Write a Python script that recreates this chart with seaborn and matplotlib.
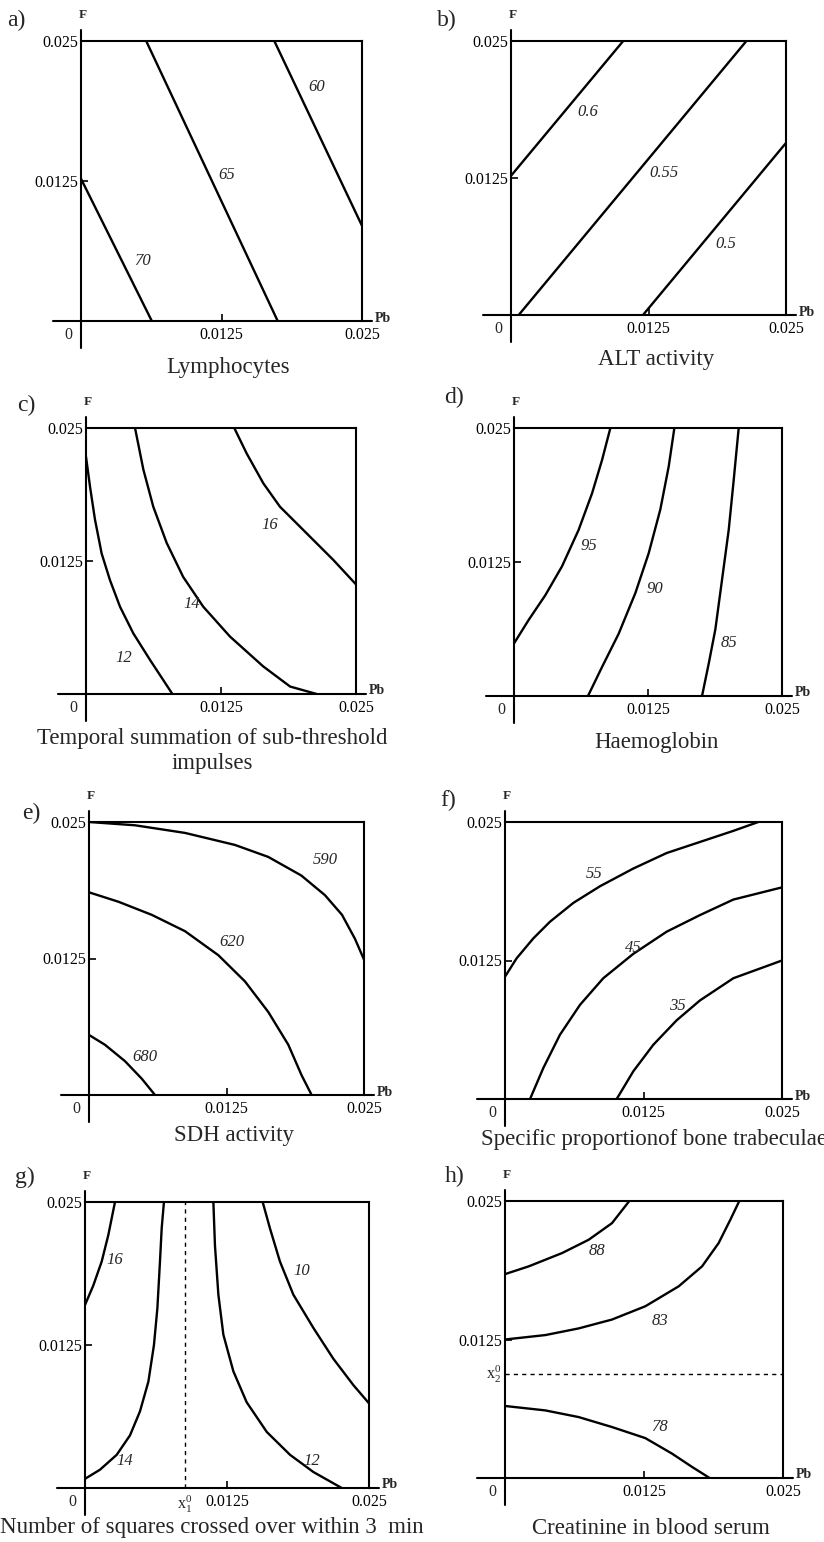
import matplotlib
matplotlib.use("Agg")
import matplotlib.pyplot as plt
import pandas as pd
import seaborn as sns

sns.set_theme(style="white")
plt.rcParams["font.family"] = ["Liberation Serif", "DejaVu Serif"]
plt.rcParams["mathtext.fontset"] = "stix"

W, H = 824, 1542

# a) Lymphocytes
lymph_levels = ["70", "65", "60"]
lymph_pb = [[0.0, 0.0063], [0.0058, 0.0175], [0.0172, 0.025]]
lymph_f = [[0.0127, 0.0], [0.025, 0.0], [0.025, 0.0085]]

# b) ALT activity
alt_levels = ["0.6", "0.55", "0.5"]
alt_pb = [[0.0, 0.0102], [0.0007, 0.0214], [0.0120, 0.025]]
alt_f = [[0.0127, 0.025], [0.0, 0.025], [0.0, 0.0157]]

# c) temporal summation
temp_levels = ["12", "14", "16"]
temp_pb = [[0.0, 0.00037, 0.00083, 0.00145, 0.00222, 0.00315, 0.00438, 0.00593, 0.00716, 0.0080],
           [0.00454, 0.00531, 0.00623, 0.00747, 0.0090, 0.01086, 0.01333, 0.0164, 0.0189, 0.02136],
           [0.01373, 0.01488, 0.01642, 0.01796, 0.02043, 0.0229, 0.025]]
temp_f = [[0.0223, 0.0195, 0.0164, 0.0132, 0.0107, 0.0082, 0.0057, 0.0032, 0.0013, 0.0],
          [0.025, 0.0211, 0.0176, 0.0142, 0.0110, 0.0082, 0.0054, 0.0026, 0.0007, 0.0],
          [0.025, 0.0226, 0.0198, 0.0176, 0.0151, 0.0126, 0.0103]]

# d) Haemoglobin
hb_levels = ["95", "90", "85"]
hb_pb = [[0.0, 0.00137, 0.00292, 0.00448, 0.00603, 0.00728, 0.00821, 0.00899],
         [0.0069, 0.00821, 0.00976, 0.01132, 0.01256, 0.01365, 0.01443, 0.01496],
         [0.01754, 0.01816, 0.01878, 0.0194, 0.02003, 0.02049, 0.02096]]
hb_f = [[0.0049, 0.0071, 0.0094, 0.0121, 0.0155, 0.0189, 0.0220, 0.025],
        [0.0, 0.0027, 0.0058, 0.0096, 0.0133, 0.0174, 0.0214, 0.025],
        [0.0, 0.0030, 0.0062, 0.0108, 0.0155, 0.0201, 0.025]]

# e) SDH activity
sdh_levels = ["590", "620", "680"]
sdh_pb = [[0.0, 0.00418, 0.00873, 0.01327, 0.0163, 0.0193, 0.02145, 0.0230, 0.02418, 0.025],
          [0.0, 0.00267, 0.0057, 0.00873, 0.01176, 0.01418, 0.0163, 0.01812, 0.01933, 0.02024],
          [0.0, 0.00145, 0.00327, 0.00479, 0.0060]]
sdh_f = [[0.025, 0.0247, 0.0240, 0.0229, 0.0218, 0.0201, 0.0183, 0.0165, 0.0143, 0.0124],
         [0.01856, 0.0177, 0.0165, 0.0150, 0.0128, 0.0104, 0.0076, 0.0046, 0.0018, 0.0],
         [0.0055, 0.0046, 0.0031, 0.0015, 0.0]]

# f) bone trabeculae
bone_levels = ["55", "45", "35"]
bone_pb = [[0.0, 0.00105, 0.00256, 0.00406, 0.00617, 0.00857, 0.01158, 0.01459, 0.0176, 0.02061, 0.02286],
           [0.00226, 0.00346, 0.00496, 0.00677, 0.00887, 0.01158, 0.01459, 0.0176, 0.02061, 0.025],
           [0.01008, 0.01158, 0.01339, 0.01549, 0.0176, 0.02061, 0.025]]
bone_f = [[0.01104, 0.0127, 0.0145, 0.0160, 0.0177, 0.0192, 0.0208, 0.0222, 0.0232, 0.0242, 0.025],
          [0.0, 0.0028, 0.0058, 0.0085, 0.0109, 0.0131, 0.0151, 0.0166, 0.0180, 0.0191],
          [0.0, 0.0025, 0.0049, 0.0071, 0.0089, 0.0109, 0.0125]]

# g) squares crossed
sq_levels = ["16", "14", "12", "10"]
sq_pb = [[0.0, 0.00073, 0.00147, 0.00205, 0.00264],
         [0.0, 0.00132, 0.00279, 0.00396, 0.00484, 0.00558, 0.00607, 0.00637, 0.0066, 0.00675, 0.00695],
         [0.0113, 0.01144, 0.01174, 0.01218, 0.01306, 0.01423, 0.0160, 0.01805, 0.0201, 0.0226],
         [0.01564, 0.01628, 0.01716, 0.01834, 0.0201, 0.02186, 0.02362, 0.025]]
sq_f = [[0.0160, 0.0177, 0.0198, 0.0221, 0.025],
        [0.0008, 0.0016, 0.0029, 0.0046, 0.0067, 0.0093, 0.0125, 0.0157, 0.0198, 0.0227, 0.025],
        [0.025, 0.0212, 0.0169, 0.0134, 0.0102, 0.0075, 0.0049, 0.0029, 0.0014, 0.0],
        [0.025, 0.0227, 0.0198, 0.0169, 0.0140, 0.0113, 0.0090, 0.0074]]
x1_0 = 0.0088

# h) creatinine
cr_levels = ["88", "83", "78"]
cr_pb = [[0.0, 0.00213, 0.00513, 0.00752, 0.00962, 0.01118],
         [0.0, 0.00363, 0.00662, 0.00962, 0.01262, 0.01562, 0.01772, 0.01921, 0.02026, 0.02107],
         [0.0, 0.00363, 0.00662, 0.00962, 0.01262, 0.01502, 0.01682, 0.0184]]
cr_f = [[0.0184, 0.0191, 0.0203, 0.0215, 0.0230, 0.025],
        [0.0125, 0.0129, 0.0135, 0.0143, 0.0155, 0.0173, 0.0191, 0.0212, 0.0233, 0.025],
        [0.0065, 0.0061, 0.0055, 0.0046, 0.0036, 0.0022, 0.0010, 0.0]]
x2_0 = 0.0094

tick_vals = [0.0125, 0.025]
tick_text = ["0.0125", "0.025"]

# layout: box (L, T, R, B) px, letter pos, label pos (data), title lines, title pos
panels = [
    dict(levels=lymph_levels, pb=lymph_pb, f=lymph_f, box=(81, 41, 362, 321),
         letter="a)", lpos=(7, 20),
         lab=[(0.0055, 0.0054), (0.0130, 0.0130), (0.0210, 0.0209)],
         title=["Lymphocytes"], tpos=[(228, 368)]),
    dict(levels=alt_levels, pb=alt_pb, f=alt_f, box=(511, 41, 786, 315),
         letter="b)", lpos=(437, 20),
         lab=[(0.0070, 0.0185), (0.0139, 0.0130), (0.0195, 0.0065)],
         title=["ALT activity"], tpos=[(656, 360)]),
    dict(levels=temp_levels, pb=temp_pb, f=temp_f, box=(86, 428, 356, 694),
         letter="c)", lpos=(17, 405),
         lab=[(0.0035, 0.0034), (0.0098, 0.0085), (0.0170, 0.0159)],
         title=["Temporal summation of sub-threshold", "impulses"],
         tpos=[(212, 738), (212, 763)]),
    dict(levels=hb_levels, pb=hb_pb, f=hb_f, box=(514, 428, 782, 696),
         letter="d)", lpos=(444, 397),
         lab=[(0.0070, 0.0140), (0.0131, 0.0100), (0.0201, 0.0049)],
         title=["Haemoglobin"], tpos=[(656, 742)]),
    dict(levels=sdh_levels, pb=sdh_pb, f=sdh_f, box=(89, 822, 364, 1095),
         letter="e)", lpos=(22, 813),
         lab=[(0.0215, 0.0215), (0.0130, 0.0140), (0.0051, 0.0035)],
         title=["SDH activity"], tpos=[(234, 1136)]),
    dict(levels=bone_levels, pb=bone_pb, f=bone_f, box=(505, 822, 782, 1099),
         letter="f)", lpos=(440, 800),
         lab=[(0.0080, 0.0203), (0.0116, 0.0136), (0.0156, 0.0084)],
         title=["Specific proportionof bone trabeculae"], tpos=[(654, 1140)]),
    dict(levels=sq_levels, pb=sq_pb, f=sq_f, box=(85, 1202, 369, 1488),
         letter="g)", lpos=(15, 1177),
         lab=[(0.0026, 0.0199), (0.0035, 0.0024), (0.0200, 0.0024), (0.0191, 0.0190)],
         title=["Number of squares crossed over within 3  min"], tpos=[(212, 1528)]),
    dict(levels=cr_levels, pb=cr_pb, f=cr_f, box=(505, 1201, 783, 1478),
         letter="h)", lpos=(445, 1176),
         lab=[(0.0083, 0.0205), (0.0139, 0.0142), (0.0139, 0.0046)],
         title=["Creatinine in blood serum"], tpos=[(651, 1528)]),
]

fig = plt.figure(figsize=(W / 100, H / 100), dpi=100)
fig.patch.set_facecolor("white")

axes = []
for p in panels:
    L, T, R, B = p["box"]
    w, h = R - L, B - T
    ax = fig.add_axes([L / W, 1 - B / H, w / W, h / H])
    rows = []
    for lev, xs, ys in zip(p["levels"], p["pb"], p["f"]):
        for i, (xv, yv) in enumerate(zip(xs, ys)):
            rows.append({"level": lev, "i": i, "Pb": xv, "F": yv})
    df = pd.DataFrame(rows)
    sns.lineplot(data=df, x="Pb", y="F", units="level", estimator=None,
                 sort=False, color="black", lw=1.7, legend=False, ax=ax)
    ax.set_xlim(0, 0.025)
    ax.set_ylim(0, 0.025)
    ax.set_xlabel("")
    ax.set_ylabel("")
    ax.set_facecolor("white")
    for s in ["left", "bottom"]:
        ax.spines[s].set_visible(False)
    for s in ["top", "right"]:
        ax.spines[s].set_color("black")
        ax.spines[s].set_linewidth(1.5)
    # extended axis lines
    ax.plot([0, 0], [-27 / h, 1 + 11 / h], transform=ax.transAxes,
            clip_on=False, color="black", lw=1.5)
    ax.plot([-28 / w, 1 + 10 / w], [0, 0], transform=ax.transAxes,
            clip_on=False, color="black", lw=1.5)
    ax.set_xticks(tick_vals)
    ax.set_xticklabels(tick_text)
    ax.set_yticks(tick_vals)
    ax.set_yticklabels(tick_text)
    ax.tick_params(direction="in", length=5, width=1.2, colors="black",
                   labelsize=11.5, bottom=True, left=True, pad=2)
    ax.tick_params(axis="x", pad=4)

    for lev, (lx, ly) in zip(p["levels"], p["lab"]):
        ax.text(lx, ly, lev, style="italic", fontsize=12, ha="center", va="center")

    fig.text((L - 13) / W, 1 - (B + 14) / H, "0", fontsize=11.5, ha="center", va="center")
    fig.text((L + 2) / W, 1 - (T - 26) / H, "F", fontsize=9.5, weight="bold",
             ha="center", va="center")
    fig.text((R + 13) / W, 1 - (B - 3) / H, "Pb", fontsize=10, weight="bold",
             ha="left", va="center")
    fig.text(p["lpos"][0] / W, 1 - p["lpos"][1] / H, p["letter"], fontsize=17,
             ha="left", va="center")
    for line, (tx, ty) in zip(p["title"], p["tpos"]):
        fig.text(tx / W, 1 - ty / H, line, fontsize=16.5, ha="center", va="center")
    axes.append(ax)

# reference lines g) and h)
axes[6].axvline(x1_0, color="black", lw=1, ls=(0, (3, 3)))
axes[6].annotate(r"$\mathregular{x_1^0}$", xy=(x1_0, 0), xytext=(0, -4),
                 textcoords="offset points", ha="center", va="top", fontsize=11.5)
axes[7].axhline(x2_0, color="black", lw=1, ls=(0, (3, 3)))
axes[7].annotate(r"$\mathregular{x_2^0}$", xy=(0, x2_0), xytext=(-3, 0),
                 textcoords="offset points", ha="right", va="center", fontsize=11.5)

fig.savefig("out.png", dpi=100, facecolor="white")
